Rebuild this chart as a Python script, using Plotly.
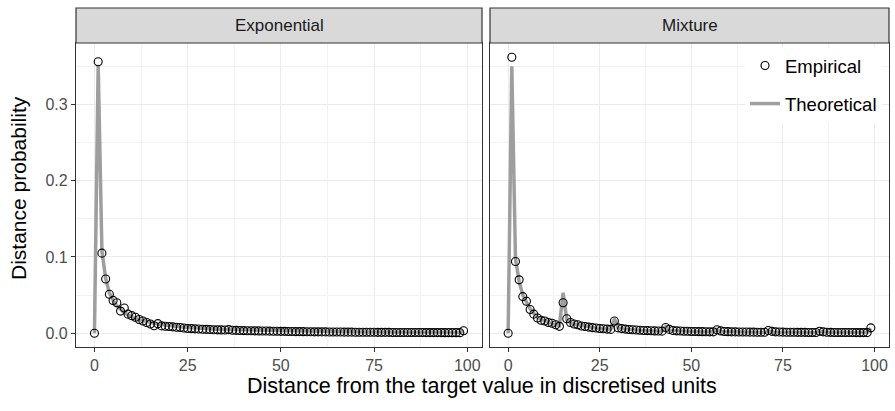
import plotly.graph_objects as go

x_vals = list(range(100))

exp_emp = [0.0, 0.356, 0.105, 0.071, 0.051, 0.043, 0.040, 0.029, 0.033, 0.025,
           0.023, 0.021, 0.018, 0.016, 0.014, 0.012, 0.0098, 0.0125, 0.0096, 0.0092,
           0.0088, 0.0083, 0.0079, 0.0074, 0.0068, 0.0062, 0.0060, 0.0057, 0.0055, 0.0052,
           0.0050, 0.0048, 0.0046, 0.0044, 0.0043, 0.0041, 0.0047, 0.0039, 0.0037, 0.0036,
           0.0034, 0.0033, 0.0032, 0.0031, 0.0030, 0.0029, 0.0028, 0.0027, 0.0026, 0.0025,
           0.0024, 0.0024, 0.0023, 0.0022, 0.0021, 0.0021, 0.0020, 0.0019, 0.0019, 0.0018,
           0.0018, 0.0017, 0.0017, 0.0016, 0.0016, 0.0015, 0.0015, 0.0014, 0.0014, 0.0014,
           0.0013, 0.0013, 0.0013, 0.0012, 0.0012, 0.0012, 0.0011, 0.0011, 0.0011, 0.0011,
           0.0010, 0.0010, 0.0010, 0.0010, 0.0009, 0.0009, 0.0009, 0.0009, 0.0009, 0.0008,
           0.0008, 0.0008, 0.0008, 0.0008, 0.0007, 0.0007, 0.0007, 0.0007, 0.0007, 0.0032]

exp_theo = [0.0, 0.352, 0.108, 0.072, 0.053, 0.043, 0.036, 0.031, 0.027, 0.024,
            0.0215, 0.0195, 0.0178, 0.0163, 0.0150, 0.0139, 0.0129, 0.0120, 0.0112, 0.0105,
            0.0099, 0.0093, 0.0088, 0.0083, 0.0079, 0.0075, 0.0071, 0.0068, 0.0065, 0.0062,
            0.0059, 0.0057, 0.0055, 0.0052, 0.0050, 0.0048, 0.0047, 0.0045, 0.0043, 0.0042,
            0.0040, 0.0039, 0.0038, 0.0036, 0.0035, 0.0034, 0.0033, 0.0032, 0.0031, 0.0030,
            0.0030, 0.0029, 0.0028, 0.0027, 0.0027, 0.0026, 0.0025, 0.0025, 0.0024, 0.0024,
            0.0023, 0.0022, 0.0022, 0.0021, 0.0021, 0.0020, 0.0020, 0.0019, 0.0019, 0.0019,
            0.0018, 0.0018, 0.0017, 0.0017, 0.0017, 0.0016, 0.0016, 0.0016, 0.0015, 0.0015,
            0.0015, 0.0014, 0.0014, 0.0014, 0.0014, 0.0013, 0.0013, 0.0013, 0.0013, 0.0012,
            0.0012, 0.0012, 0.0012, 0.0011, 0.0011, 0.0011, 0.0011, 0.0011, 0.0010, 0.0034]

mix_emp = [0.0, 0.362, 0.094, 0.070, 0.048, 0.042, 0.031, 0.025, 0.020, 0.017,
           0.016, 0.014, 0.013, 0.011, 0.009, 0.040, 0.019, 0.014, 0.012, 0.011,
           0.0095, 0.0088, 0.0080, 0.0073, 0.0068, 0.0062, 0.0058, 0.0054, 0.0050, 0.0160,
           0.0070, 0.0060, 0.0054, 0.0049, 0.0045, 0.0042, 0.0039, 0.0036, 0.0034, 0.0032,
           0.0030, 0.0028, 0.0027, 0.0075, 0.0050, 0.0036, 0.0031, 0.0028, 0.0026, 0.0025,
           0.0023, 0.0022, 0.0021, 0.0020, 0.0019, 0.0018, 0.0018, 0.0045, 0.0030, 0.0023,
           0.0020, 0.0018, 0.0017, 0.0016, 0.0015, 0.0015, 0.0014, 0.0014, 0.0013, 0.0013,
           0.0012, 0.0035, 0.0024, 0.0018, 0.0015, 0.0014, 0.0013, 0.0012, 0.0012, 0.0011,
           0.0011, 0.0011, 0.0010, 0.0010, 0.0010, 0.0026, 0.0018, 0.0013, 0.0011, 0.0010,
           0.0010, 0.0009, 0.0009, 0.0009, 0.0009, 0.0008, 0.0008, 0.0008, 0.0008, 0.0070]

mix_theo = [0.0, 0.350, 0.098, 0.068, 0.050, 0.040, 0.032, 0.026, 0.021, 0.018,
            0.016, 0.014, 0.012, 0.011, 0.010, 0.053, 0.018, 0.014, 0.012, 0.011,
            0.0097, 0.0088, 0.0080, 0.0073, 0.0067, 0.0062, 0.0058, 0.0054, 0.0051, 0.0190,
            0.0068, 0.0060, 0.0054, 0.0049, 0.0045, 0.0042, 0.0039, 0.0036, 0.0034, 0.0032,
            0.0030, 0.0029, 0.0027, 0.0085, 0.0040, 0.0034, 0.0031, 0.0028, 0.0026, 0.0025,
            0.0023, 0.0022, 0.0021, 0.0020, 0.0019, 0.0018, 0.0018, 0.0048, 0.0024, 0.0021,
            0.0019, 0.0018, 0.0017, 0.0016, 0.0015, 0.0015, 0.0014, 0.0014, 0.0013, 0.0013,
            0.0012, 0.0033, 0.0017, 0.0015, 0.0014, 0.0013, 0.0013, 0.0012, 0.0012, 0.0011,
            0.0011, 0.0011, 0.0010, 0.0010, 0.0010, 0.0024, 0.0013, 0.0012, 0.0011, 0.0010,
            0.0010, 0.0010, 0.0009, 0.0009, 0.0009, 0.0009, 0.0008, 0.0008, 0.0008, 0.0065]

panels = ["Exponential", "Mixture"]
x_ticks = [0, 25, 50, 75, 100]
y_ticks = [0.0, 0.1, 0.2, 0.3]

FONT = "Liberation Sans, Arial, sans-serif"
LINE_COLOR = "#9E9E9E"

fig = go.Figure()

series = [(exp_emp, exp_theo, "x", "y"), (mix_emp, mix_theo, "x2", "y2")]
for i, (emp, theo, xa, ya) in enumerate(series):
    fig.add_trace(go.Scatter(
        x=x_vals, y=theo, mode="lines", name="Theoretical",
        line=dict(color=LINE_COLOR, width=3.5),
        xaxis=xa, yaxis=ya, showlegend=(i == 1), legendrank=2,
        legendgroup="theo"))
    fig.add_trace(go.Scatter(
        x=x_vals, y=emp, mode="markers", name="Empirical",
        marker=dict(symbol="circle-open", size=8, color="black",
                    line=dict(width=1.1, color="black")),
        xaxis=xa, yaxis=ya, showlegend=(i == 1), legendrank=1,
        legendgroup="emp"))

xr = [-4.95, 103.95]
yr = [-0.0181, 0.3806]
axis_common = dict(
    showline=True, mirror=True, linecolor="#333333", linewidth=1.2,
    ticks="outside", ticklen=4, tickcolor="#333333", tickwidth=1,
    showgrid=True, gridcolor="#EBEBEB", gridwidth=1.1,
    zeroline=False,
    tickfont=dict(family=FONT, size=16, color="#4D4D4D"),
)
x_common = dict(axis_common, range=xr, tickvals=x_ticks,
                minor=dict(tickvals=[12.5, 37.5, 62.5, 87.5], showgrid=True,
                           gridcolor="#F2F2F2", gridwidth=0.6, ticks=""))
y_common = dict(axis_common, range=yr, tickvals=y_ticks, tickformat=".1f",
                minor=dict(tickvals=[0.05, 0.15, 0.25, 0.35], showgrid=True,
                           gridcolor="#F2F2F2", gridwidth=0.6, ticks=""))

L, R, T, B = 76, 6, 43, 64
W, H = 895, 411
pw = W - L - R
ph = H - T - B
left_end = (482 - L) / pw
right_start = (490 - L) / pw

fig.update_layout(
    width=W, height=H,
    margin=dict(l=L, r=R, t=T, b=B),
    paper_bgcolor="white", plot_bgcolor="white",
    font=dict(family=FONT, color="black"),
    xaxis=dict(x_common, domain=[0, left_end], anchor="y"),
    yaxis=dict(y_common, domain=[0, 1], anchor="x"),
    xaxis2=dict(x_common, domain=[right_start, 1], anchor="y2"),
    yaxis2=dict(y_common, domain=[0, 1], anchor="x2", showticklabels=False, ticks=""),
    legend=dict(x=(745 - L) / pw, y=(H - B - 47) / ph, xanchor="left", yanchor="top",
                bgcolor="white", borderwidth=0, tracegroupgap=11,
                font=dict(family=FONT, size=18.5, color="black"),
                traceorder="grouped"),
    showlegend=True,
)

strip_h = 35 / ph
for i, name in enumerate(panels):
    xd = "x domain" if i == 0 else "x2 domain"
    fig.add_shape(type="rect", xref=xd, yref="paper", x0=0, x1=1, y0=1, y1=1 + strip_h,
                  fillcolor="#D9D9D9", line=dict(color="#333333", width=1.2), layer="above")
    fig.add_annotation(text=name, xref=xd, yref="paper", x=0.5, y=1 + strip_h / 2,
                       showarrow=False, xanchor="center", yanchor="middle",
                       font=dict(family=FONT, size=17, color="#1A1A1A"))

fig.add_annotation(text="Distance from the target value in discretised units",
                   xref="paper", yref="paper", x=(482 - L) / pw, y=-(386 - (H - B)) / ph,
                   showarrow=False, xanchor="center", yanchor="middle",
                   font=dict(family=FONT, size=21.5, color="black"))
fig.add_annotation(text="Distance probability", xref="paper", yref="paper",
                   x=-(L - 18) / pw, y=(H - B - 188) / ph, textangle=-90,
                   showarrow=False, xanchor="center", yanchor="middle",
                   font=dict(family=FONT, size=21, color="black"))

fig.write_html("out.html")
